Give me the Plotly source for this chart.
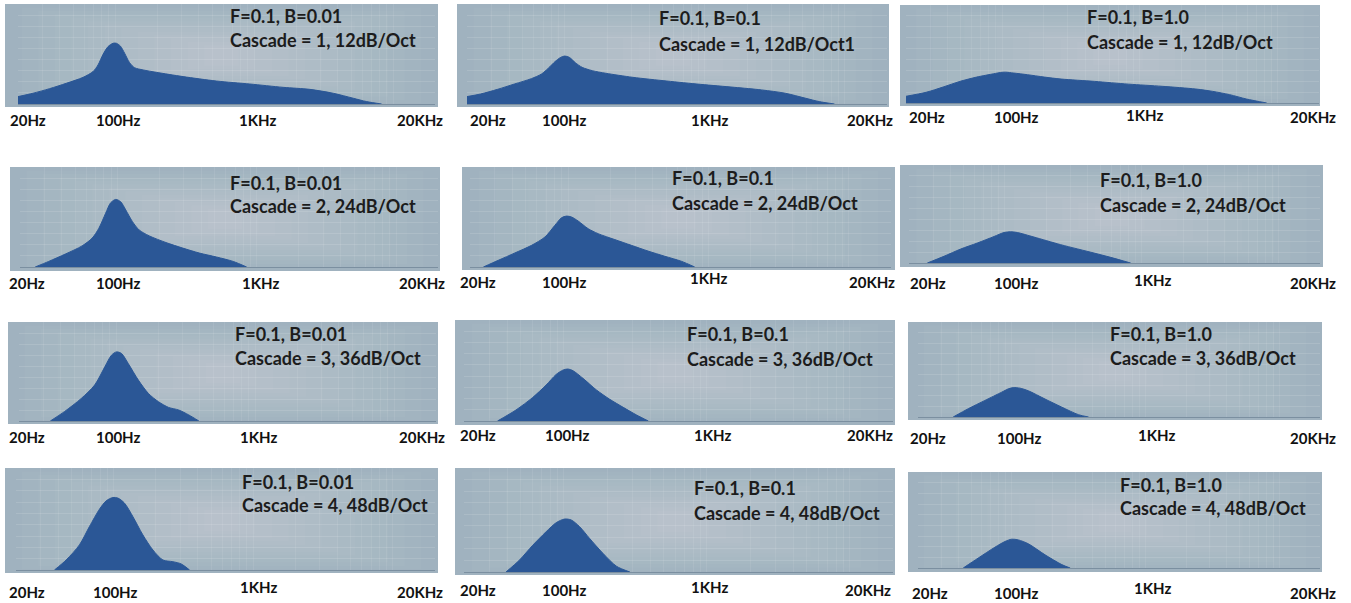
import math
import plotly.graph_objects as go

W, H = 1351, 603

# ---------------- data (frequency in Hz, level in dB above the floor) ----------------
c1_b001_hz = [20, 25.6, 33.8, 44.6, 58.8, 69.3, 75.3, 81.8, 88.9, 96.6, 102, 109, 117, 127, 138, 159, 198, 308, 536, 931, 1618, 2518, 3707, 5165, 6442, 8260]
c1_b001_db = [4.0, 5.8, 8.3, 11.2, 14.4, 17.5, 21.1, 26.8, 31.0, 32.8, 32.8, 31.3, 27.4, 22.3, 19.6, 18.4, 17.1, 14.8, 12.4, 10.8, 9.0, 7.9, 5.8, 3.1, 1.3, 0]

c1_b01_hz = [20, 25.0, 33.0, 43.6, 57.7, 68.1, 76.1, 85.1, 92.5, 99.5, 107.6, 118.9, 132.9, 157, 196, 306, 535, 933, 1629, 2546, 3758, 5250, 6560, 8433]
c1_b01_db = [4.0, 5.4, 7.9, 10.8, 13.7, 16.2, 19.3, 22.9, 25.0, 25.9, 25.2, 22.3, 19.8, 18.0, 16.6, 14.4, 12.4, 10.6, 9.0, 7.6, 5.8, 3.1, 1.3, 0]

c1_b1_hz = [20, 28.0, 37.2, 49.3, 65.3, 86.6, 97.0, 105.5, 121.5, 152.3, 201.9, 267.8, 470.5, 826.5, 1452, 2553, 3387, 4490, 5945, 8340]
c1_b1_db = [3.7, 5.9, 8.8, 11.9, 14.3, 16.1, 16.8, 17.0, 16.5, 15.6, 14.3, 13.2, 11.9, 10.4, 9.2, 7.7, 6.4, 4.6, 2.2, 0]

c2_b001_hz = [25.7, 32.1, 42.3, 55.8, 65.9, 73.6, 82.3, 89.5, 97.3, 105.7, 114.9, 128.3, 143.3, 169.4, 223.4, 295, 389, 514, 678, 847]
c2_b001_db = [0, 3.0, 7.0, 11.4, 15.6, 20.9, 29.0, 34.7, 36.5, 35.2, 30.8, 24.5, 20.0, 16.8, 13.2, 10.2, 7.5, 5.4, 3.0, 0]

c2_b01_hz = [24.9, 31.8, 41.8, 54.9, 68.4, 80.5, 89.8, 97.5, 105.8, 118.1, 139, 163.8, 215.3, 282.6, 371.6, 488.6, 641.5, 798.5]
c2_b01_db = [0, 3.6, 7.6, 11.7, 16.2, 22.5, 26.6, 27.5, 27.0, 24.8, 20.7, 18.0, 14.8, 11.7, 8.6, 5.8, 3.1, 0]

c2_b1_hz = [27.2, 36.0, 47.7, 63.0, 83.5, 98.7, 110.4, 123.5, 163.5, 256, 448, 593, 830]
c2_b1_db = [0, 3.7, 7.7, 11.0, 14.6, 16.8, 17.2, 16.8, 14.3, 10.1, 5.5, 3.1, 0]

c3_b001_hz = [33.6, 42.4, 56.1, 70.0, 82.8, 92.5, 100.6, 109.4, 122.3, 144.5, 170.8, 201.8, 238.5, 281.9, 333.2, 393.7]
c3_b001_db = [0, 5.1, 12.3, 19.6, 29.5, 35.9, 37.7, 36.8, 31.3, 22.3, 15.0, 10.5, 7.4, 6.0, 3.3, 0]

c3_b01_hz = [34.3, 46.2, 60.5, 75.0, 88.2, 98.3, 106.6, 115.6, 135.9, 168.7, 209.2, 259.7, 322.1, 389.1]
c3_b01_db = [0, 5.9, 12.6, 19.2, 24.9, 27.2, 27.8, 26.9, 22.8, 16.6, 11.6, 7.3, 3.2, 0]

c3_b1_hz = [36.6, 47.4, 63.1, 84.2, 94.4, 102.9, 115.4, 133.3, 177.6, 236.8, 315.6, 375]
c3_b1_db = [0, 4.7, 9.4, 14.1, 16.0, 16.7, 16.4, 14.9, 10.2, 5.6, 1.3, 0]

c4_b001_hz = [37.7, 45.7, 56.9, 67.1, 79.2, 88.4, 98.7, 107.2, 119.7, 137.3, 161.9, 191.1, 225.5, 265.8, 305, 349.9]
c4_b001_db = [0, 5.3, 13.3, 23.0, 32.2, 36.6, 38.4, 38.1, 35.4, 28.3, 18.6, 10.6, 5.3, 4.4, 3.2, 0]

c4_b01_hz = [39.3, 48.7, 60.5, 75.0, 88.2, 101, 112.5, 128.8, 151.3, 187.9, 232.9, 289.2]
c4_b01_db = [0, 6.1, 13.9, 20.9, 25.6, 27.5, 27.0, 23.5, 17.4, 9.6, 3.0, 0]

c4_b1_hz = [43.5, 56.3, 75.0, 89.1, 100, 112.2, 133.3, 177.6, 236.8, 273.4]
c4_b1_db = [0, 5.6, 11.7, 14.9, 16.2, 15.8, 13.6, 7.4, 1.9, 0]

param_labels = ["F=0.1, B=0.01", "F=0.1, B=0.1", "F=0.1, B=1.0"] * 4
cascade_labels = [
    "Cascade = 1, 12dB/Oct", "Cascade = 1, 12dB/Oct1", "Cascade = 1, 12dB/Oct",
    "Cascade = 2, 24dB/Oct", "Cascade = 2, 24dB/Oct", "Cascade = 2, 24dB/Oct",
    "Cascade = 3, 36dB/Oct", "Cascade = 3, 36dB/Oct", "Cascade = 3, 36dB/Oct",
    "Cascade = 4, 48dB/Oct", "Cascade = 4, 48dB/Oct", "Cascade = 4, 48dB/Oct",
]
series_hz = [c1_b001_hz, c1_b01_hz, c1_b1_hz, c2_b001_hz, c2_b01_hz, c2_b1_hz,
             c3_b001_hz, c3_b01_hz, c3_b1_hz, c4_b001_hz, c4_b01_hz, c4_b1_hz]
series_db = [c1_b001_db, c1_b01_db, c1_b1_db, c2_b001_db, c2_b01_db, c2_b1_db,
             c3_b001_db, c3_b01_db, c3_b1_db, c4_b001_db, c4_b01_db, c4_b1_db]

tick_text = ["20Hz", "100Hz", "1KHz", "20KHz"]

# ---------------- layout geometry (pixels) ----------------
panel_left = [5, 457, 900, 10, 462, 900, 8, 455, 908, 5, 455, 908]
panel_right = [438, 889, 1320, 440, 895, 1323, 438, 895, 1322, 438, 895, 1322]
panel_top = [4, 4, 5, 167, 167, 165, 322, 320, 322, 468, 468, 472]
panel_bottom = [107, 107, 106, 271, 270, 267, 424, 425, 420, 573, 575, 572]
plot_left = [18, 467, 906, 20, 470, 909, 19, 464, 918, 16, 464, 918]
plot_right = [435, 887, 1319, 438, 891, 1320, 436, 893, 1320, 435, 893, 1320]
plot_base = [104, 104, 103, 267, 267, 263, 421, 421, 417, 570, 572, 568]
text_x = [228, 657, 1085, 228, 670, 1098, 233, 685, 1108, 240, 692, 1118]
text_y1 = [16, 18, 17, 183, 178, 180, 334, 334, 334, 482, 488, 485]
text_y2 = [40, 44, 42, 206, 203, 205, 358, 359, 358, 505, 513, 508]
# frequency label placement: left edge of first, centres of middle two, right edge of last
lab_first_left = [8, 468, 907, 7, 458, 908, 7, 458, 908, 7, 458, 910]
lab_100_center = [118, 564, 1017, 118, 564, 1017, 118, 567, 1019, 115, 564, 1017]
lab_1k_center = [257, 709, 1144, 260, 708, 1152, 258, 712, 1156, 258, 709, 1152]
lab_last_right = [445, 895, 1338, 447, 897, 1338, 447, 895, 1338, 445, 893, 1338]
lab_y = [120, 120, 117, 283, 282, 283, 437, 435, 438, 592, 590, 593]
lab_1k_y = [120, 120, 115, 283, 278, 280, 437, 435, 435, 587, 587, 588]

DB_TOP = 54
FILL = "#2b5796"
BG = "#a0b2bf"
FONT = "Lato"

fig = go.Figure()
layout = dict(width=W, height=H, margin=dict(l=0, r=0, t=0, b=0),
              paper_bgcolor="white", plot_bgcolor="rgba(0,0,0,0)",
              showlegend=False, shapes=[], annotations=[])

minor_ticks = [20, 30, 40, 50, 60, 70, 80, 90, 100, 200, 300, 400, 500, 600, 700, 800, 900,
               1000, 2000, 3000, 4000, 5000, 6000, 7000, 8000, 9000, 10000, 20000]

for i in range(12):
    sfx = "" if i == 0 else str(i + 1)
    fig.add_trace(go.Scatter(
        x=series_hz[i], y=series_db[i], xaxis="x" + sfx, yaxis="y" + sfx,
        mode="lines", line=dict(color=FILL, width=1, shape="spline", smoothing=0.8),
        fill="tozeroy", fillcolor=FILL, hoverinfo="skip"))
    layout["xaxis" + sfx] = dict(
        type="log", range=[math.log10(20), math.log10(20000)],
        domain=[plot_left[i] / W, plot_right[i] / W], anchor="y" + sfx,
        tickvals=minor_ticks, showticklabels=False, ticks="",
        showgrid=True, gridcolor="rgba(255,255,255,0.08)", gridwidth=1,
        showline=True, linecolor="#7b8fa0", linewidth=1, zeroline=False, fixedrange=True)
    layout["yaxis" + sfx] = dict(
        range=[0, DB_TOP], domain=[1 - plot_base[i] / H, 1 - panel_top[i] / H],
        anchor="x" + sfx, tickvals=list(range(0, DB_TOP + 1, 6)), showticklabels=False,
        ticks="", showgrid=True, gridcolor="rgba(255,255,255,0.12)", gridwidth=1,
        zeroline=False, showline=False, fixedrange=True)

    # panel background with a soft brightening toward the centre
    x0, x1 = panel_left[i] / W, panel_right[i] / W
    y0, y1 = 1 - panel_bottom[i] / H, 1 - panel_top[i] / H
    layout["shapes"].append(dict(type="rect", xref="paper", yref="paper", x0=x0, x1=x1,
                                 y0=y0, y1=y1, fillcolor=BG, line=dict(width=0), layer="below"))
    n = 12
    for k in range(1, n + 1):
        dx = (x1 - x0) * 0.46 * k / n
        dy = (y1 - y0) * 0.40 * k / n
        layout["shapes"].append(dict(type="rect", xref="paper", yref="paper",
                                     x0=x0 + dx, x1=x1 - dx, y0=y0 + dy, y1=y1 - dy,
                                     fillcolor="rgba(255,255,255,0.028)", line=dict(width=0),
                                     layer="below"))

    # panel captions
    for txt, ty in ((param_labels[i], text_y1[i]), (cascade_labels[i], text_y2[i])):
        layout["annotations"].append(dict(
            text="<b>%s</b>" % txt, xref="paper", yref="paper",
            x=text_x[i] / W, y=1 - ty / H, xanchor="left", yanchor="middle",
            showarrow=False, font=dict(family=FONT, size=18, color="#1c1c1c")))

    # frequency labels under each panel
    placements = [(lab_first_left[i], "left", lab_y[i]),
                  (lab_100_center[i], "center", lab_y[i]),
                  (lab_1k_center[i], "center", lab_1k_y[i]),
                  (lab_last_right[i], "right", lab_y[i])]
    for t, (px, anc, py) in zip(tick_text, placements):
        layout["annotations"].append(dict(
            text="<b>%s</b>" % t, xref="paper", yref="paper",
            x=px / W, y=1 - py / H, xanchor=anc, yanchor="middle", showarrow=False,
            font=dict(family=FONT, size=15, color="#111111")))

fig.update_layout(**layout)
fig.write_html("out.html", config={"displayModeBar": False},
               post_script="document.body.style.margin='0';document.body.style.overflow='hidden';")
